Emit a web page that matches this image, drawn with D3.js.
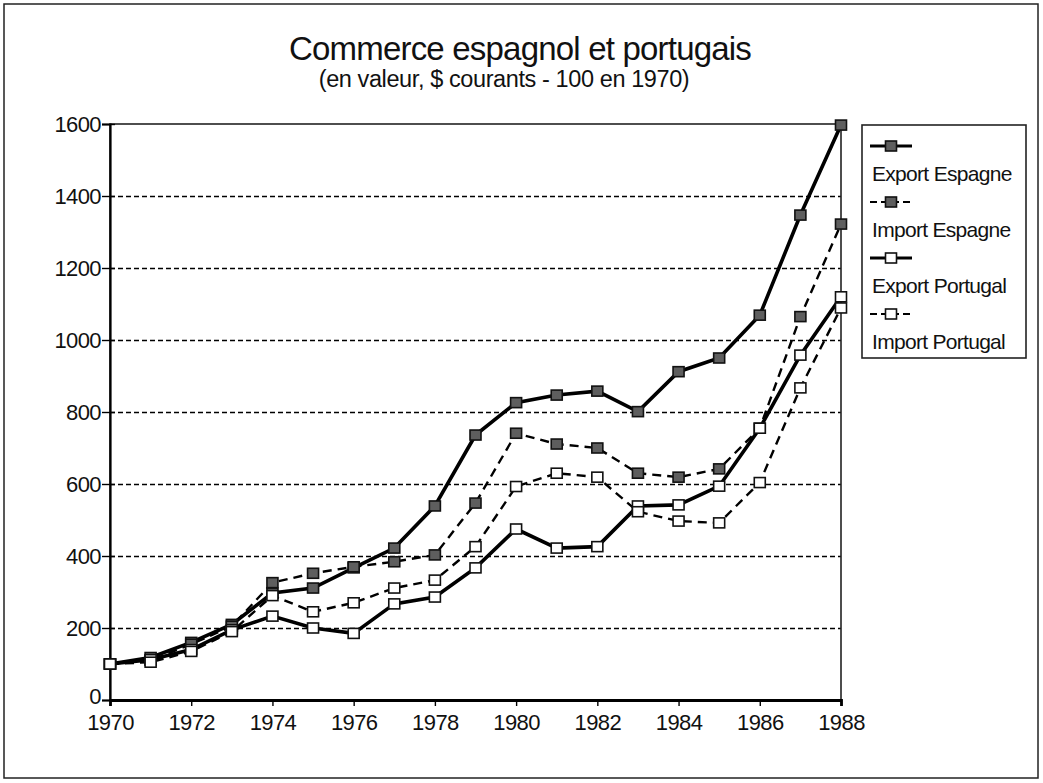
<!DOCTYPE html>
<html>
<head>
<meta charset="utf-8">
<script src="https://cdn.jsdelivr.net/npm/d3@7"></script>
<style>
  body { margin: 0; background: #fff; }
  text { font-family: "Liberation Sans", Arial, sans-serif; fill: #111; }
</style>
</head>
<body>
<svg id="chart" width="1043" height="783"></svg>
<script>
// Commerce espagnol et portugais - indices, 100 en 1970

const years = d3.range(1970, 1989);
const exportEspagne  = [100, 118, 160, 210, 297, 311, 367, 422, 539, 736, 826, 847, 858, 801, 912, 950, 1069, 1347, 1597];
const importEspagne  = [100, 110, 155, 205, 326, 352, 370, 384, 403, 547, 741, 711, 700, 630, 619, 642, 755, 1065, 1322];
const exportPortugal = [100, 112, 140, 195, 233, 200, 185, 267, 286, 367, 475, 422, 426, 539, 542, 594, 755, 958, 1120];
const importPortugal = [100, 105, 135, 190, 290, 245, 270, 311, 333, 426, 593, 630, 619, 523, 497, 492, 604, 867, 1089];
const yTicks = [0, 200, 400, 600, 800, 1000, 1200, 1400, 1600];
const xTicks = d3.range(1970, 1989, 2);

const series = [
  { name: 'Export Espagne',  values: exportEspagne,  dashed: false, filled: true },
  { name: 'Import Espagne',  values: importEspagne,  dashed: true,  filled: true },
  { name: 'Export Portugal', values: exportPortugal, dashed: false, filled: false },
  { name: 'Import Portugal', values: importPortugal, dashed: true,  filled: false }
];

const svg = d3.select('#chart');

// outer frame
svg.append('rect')
  .attr('x', 4).attr('y', 4).attr('width', 1034).attr('height', 774)
  .attr('fill', 'none').attr('stroke', '#222').attr('stroke-width', 1.5);

const margin = { left: 110, top: 124, right: 841, bottom: 700 };

const x = d3.scaleLinear().domain([1970, 1988]).range([margin.left, margin.right]);
const y = d3.scaleLinear().domain([0, 1600]).range([margin.bottom, margin.top]);

// title
svg.append('text')
  .attr('x', 520).attr('y', 60)
  .attr('text-anchor', 'middle')
  .attr('font-size', 33)
  .attr('letter-spacing', -0.8)
  .text('Commerce espagnol et portugais');
svg.append('text')
  .attr('x', 504).attr('y', 87)
  .attr('text-anchor', 'middle')
  .attr('font-size', 23.5)
  .attr('letter-spacing', -0.4)
  .text('(en valeur, $ courants - 100 en 1970)');

// gridlines
svg.append('g')
  .selectAll('line')
  .data(yTicks.filter(d => d > 0 && d < 1600))
  .enter()
  .append('line')
  .attr('x1', margin.left).attr('x2', margin.right)
  .attr('y1', d => y(d) + 0.5).attr('y2', d => y(d) + 0.5)
  .attr('stroke', '#000').attr('stroke-width', 1.6)
  .attr('stroke-dasharray', '5,3');

// plot frame
svg.append('rect')
  .attr('x', margin.left).attr('y', margin.top)
  .attr('width', margin.right - margin.left).attr('height', margin.bottom - margin.top)
  .attr('fill', 'none').attr('stroke', '#222').attr('stroke-width', 1.6);

// y axis
const yAxis = svg.append('g')
  .attr('transform', `translate(${margin.left},0)`)
  .call(d3.axisLeft(y).tickValues(yTicks).tickFormat(d3.format('d')).tickSize(8).tickPadding(1));
yAxis.select('.domain').attr('stroke-width', 2.2);
yAxis.selectAll('.tick line').attr('x2', 5).attr('x1', -8).attr('stroke-width', 1.4);
yAxis.selectAll('text').attr('font-size', 22).attr('letter-spacing', -0.6)
  .attr('font-family', '"Liberation Sans", Arial, sans-serif').attr('fill', '#111');
// lift the "0" a little so it clears the 1970 label
yAxis.selectAll('.tick text').filter(d => d === 0).attr('dy', '0.15em');

// x axis
const xAxis = svg.append('g')
  .attr('transform', `translate(0,${margin.bottom})`)
  .call(d3.axisBottom(x).tickValues(xTicks).tickFormat(d3.format('d')).tickSize(6).tickPadding(8));
xAxis.select('.domain').attr('stroke-width', 2.8);
xAxis.selectAll('.tick line').attr('stroke-width', 1.4);
xAxis.selectAll('text').attr('font-size', 22).attr('letter-spacing', -0.6)
  .attr('font-family', '"Liberation Sans", Arial, sans-serif').attr('fill', '#111');

// lines
const line = d3.line()
  .x((d, i) => x(years[i]))
  .y(d => y(d));

const markW = 11, markH = 10;

function drawMarker(sel, s) {
  sel.attr('width', markW).attr('height', markH)
    .attr('fill', s.filled ? '#5e5e5e' : '#fff')
    .attr('stroke', '#111').attr('stroke-width', 1.6);
}

series.forEach(s => {
  svg.append('path')
    .datum(s.values)
    .attr('d', line)
    .attr('fill', 'none')
    .attr('stroke', '#000')
    .attr('stroke-width', s.dashed ? 2.4 : 3.6)
    .attr('stroke-dasharray', s.dashed ? '9,6' : null);
});

series.forEach(s => {
  svg.append('g')
    .selectAll('rect')
    .data(s.values)
    .enter()
    .append('rect')
    .attr('x', (d, i) => x(years[i]) - markW / 2)
    .attr('y', d => y(d) - markH / 2)
    .call(drawMarker, s);
});

// legend
const legend = svg.append('g').attr('transform', 'translate(862,125)');
legend.append('rect')
  .attr('width', 164).attr('height', 233)
  .attr('fill', '#fff').attr('stroke', '#222').attr('stroke-width', 1.6);

series.forEach((s, i) => {
  const g = legend.append('g').attr('transform', `translate(0,${21 + i * 56})`);
  g.append('line')
    .attr('x1', 8).attr('x2', 50).attr('y1', 0).attr('y2', 0)
    .attr('stroke', '#000').attr('stroke-width', s.dashed ? 2 : 3)
    .attr('stroke-dasharray', s.dashed ? '7,4' : null);
  g.append('rect')
    .attr('x', 29 - markW / 2).attr('y', -markH / 2)
    .call(drawMarker, s);
  g.append('text')
    .attr('x', 10).attr('y', 35)
    .attr('font-size', 21)
    .attr('letter-spacing', -0.7)
    .text(s.name);
});
</script>
</body>
</html>
